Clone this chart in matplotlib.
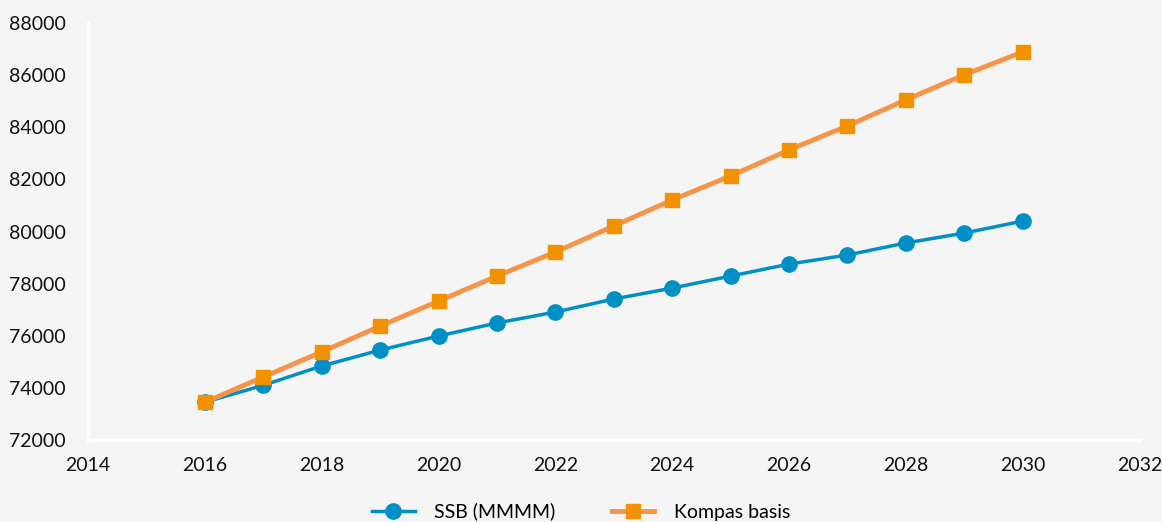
import matplotlib

matplotlib.use("Agg")
import matplotlib.pyplot as plt

years = list(range(2016, 2031))
ssb = [73450, 74100, 74840, 75450, 75990, 76490, 76910, 77410,
       77830, 78290, 78750, 79100, 79560, 79940, 80400]
kompas = [73450, 74420, 75380, 76370, 77330, 78290, 79210, 80210,
          81210, 82130, 83130, 84050, 85050, 86010, 86890]

x_ticks = list(range(2014, 2033, 2))
y_ticks = list(range(72000, 88001, 2000))

BG = "#f5f5f5"
BLUE = "#0090c5"
ORANGE_LINE = "#f6954a"
ORANGE_MARK = "#f39200"

plt.rcParams["font.family"] = ["Lato", "DejaVu Sans"]

fig = plt.figure(figsize=(11.62, 5.22), dpi=100, facecolor=BG)
ax = fig.add_axes([0.0757, 0.157, 0.905, 0.799], facecolor=BG)

ax.plot(years, ssb, color=BLUE, lw=2.5, marker="o", ms=11,
        mfc=BLUE, mec=BLUE, label="SSB (MMMM)", zorder=3)
ax.plot(years, kompas, color=ORANGE_LINE, lw=3.5, marker="s", ms=10.5,
        mfc=ORANGE_MARK, mec=ORANGE_MARK, label="Kompas basis", zorder=4)

ax.set_xlim(2014, 2032)
ax.set_ylim(72000, 88000)
ax.set_xticks(x_ticks)
ax.set_yticks(y_ticks)
ax.tick_params(length=0, labelsize=14, colors="#111111")
ax.tick_params(axis="y", pad=16)
ax.tick_params(axis="x", pad=12)

for side in ("top", "right"):
    ax.spines[side].set_visible(False)
for side in ("left", "bottom"):
    ax.spines[side].set_color("white")
    ax.spines[side].set_linewidth(2.5)

fig.legend(loc="center", bbox_to_anchor=(0.5, 0.02), ncol=2, frameon=False,
           fontsize=14, handlelength=2.2, columnspacing=2.9, handletextpad=1.0)

fig.savefig("out.png", dpi=100, facecolor=BG)
